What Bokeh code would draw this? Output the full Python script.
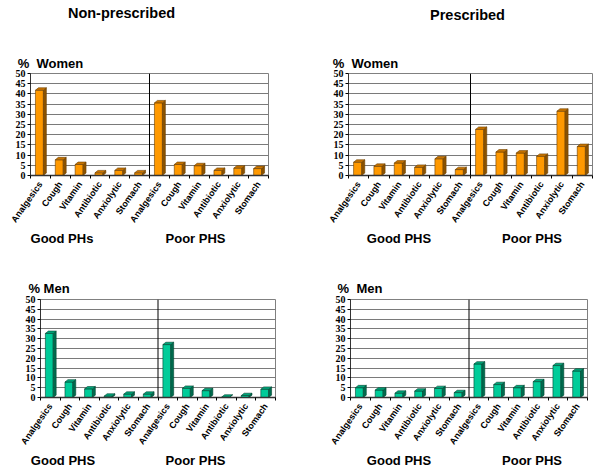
from bokeh.plotting import figure
from bokeh.models import Span, FixedTicker, Range1d, LinearAxis
from bokeh.layouts import column, row
from bokeh.embed import file_html
from bokeh.resources import INLINE

categories = ["Analgesics", "Cough", "Vitamin", "Antibiotic", "Anxiolytic", "Stomach"]
tick_labels = categories + categories
y_ticks = [0, 5, 10, 15, 20, 25, 30, 35, 40, 45, 50]

women_nonpres_good = [41.8, 7.7, 5.4, 1.3, 2.5, 1.3]
women_nonpres_poor = [35.6, 5.4, 4.8, 2.5, 3.6, 3.4]
women_pres_good = [6.5, 4.5, 6.1, 4.0, 8.2, 2.9]
women_pres_poor = [22.6, 11.5, 11.0, 9.4, 31.5, 14.2]
men_nonpres_good = [32.7, 7.9, 4.4, 0.7, 1.7, 1.7]
men_nonpres_poor = [27.0, 4.7, 3.5, 0.2, 1.0, 4.2]
men_pres_good = [5.0, 3.8, 2.2, 3.3, 4.6, 2.5]
men_pres_poor = [17.1, 6.6, 5.0, 8.1, 16.3, 13.5]

ORANGE = ("#FF9900", "#C87400", "#8A5200", "#6B3F00")
GREEN = ("#00CC99", "#00A57A", "#006B4E", "#004733")

SANS = "Liberation Sans"
SERIF = "Liberation Serif"
NB = "\u00a0"


def text_axis(p, where, items, size, standoff):
    """Axis used only to carry free text labels (centered on tick positions)."""
    ticks = [round(t, 3) for t, _ in items]
    ax = LinearAxis(ticker=FixedTicker(ticks=ticks))
    ax.major_label_overrides = {t: s for t, (_, s) in zip(ticks, items)}
    ax.axis_line_color = None
    ax.major_tick_line_color = None
    ax.minor_tick_line_color = None
    ax.major_tick_out = 0
    ax.major_tick_in = 0
    ax.minor_tick_out = 0
    ax.minor_tick_in = 0
    ax.major_label_standoff = standoff
    ax.major_label_text_font = SANS
    ax.major_label_text_font_style = "bold"
    ax.major_label_text_font_size = size
    ax.major_label_text_color = "black"
    p.add_layout(ax, where)


def make_panel(good, poor, colors, width, height, left, right, top, bottom,
               title, heading, group_names, group_px, title_px, heading_px,
               head_standoff, title_standoff, group_standoff):
    p = figure(width=width, height=height, output_backend="svg", toolbar_location=None,
               min_border_left=left, min_border_right=right,
               min_border_top=top, min_border_bottom=bottom,
               x_range=Range1d(-0.5, 11.5), y_range=Range1d(0, 50))
    p.background_fill_color = "white"
    p.border_fill_color = "white"
    p.outline_line_color = "#808080"
    p.outline_line_width = 1

    frame_w = width - left - right
    unit = frame_w / 12.0

    def to_data(px):
        # px measured from the frame's left edge
        return px / unit - 0.5

    vals = list(good) + list(poor)
    xs_pos = list(range(len(vals)))
    front, top_c, side, edge = colors
    dx, dy = 0.15, 1.2
    fl, fr = -0.25, 0.15
    p.quad(left=[x + fl for x in xs_pos], right=[x + fr for x in xs_pos],
           bottom=[0] * len(vals), top=vals, fill_color=front,
           line_color=edge, line_width=0.6)
    side_xs = [[x + fr, x + fr + dx, x + fr + dx, x + fr] for x in xs_pos]
    side_ys = [[0, dy, v + dy, v] for v in vals]
    p.patches(side_xs, side_ys, fill_color=side, line_color=edge, line_width=0.6)
    top_xs = [[x + fl, x + fr, x + fr + dx, x + fl + dx] for x in xs_pos]
    top_ys = [[v, v, v + dy, v + dy] for v in vals]
    p.patches(top_xs, top_ys, fill_color=top_c, line_color=edge, line_width=0.6)

    p.add_layout(Span(location=5.5, dimension="height", line_color="black", line_width=1))

    p.xgrid.visible = False
    p.ygrid.ticker = FixedTicker(ticks=y_ticks[1:])
    p.ygrid.grid_line_color = "#7a7a7a"
    p.ygrid.grid_line_width = 1

    xa = p.xaxis[0]
    xa.ticker = FixedTicker(ticks=xs_pos, minor_ticks=[x - 0.5 for x in range(len(vals) + 1)])
    xa.major_label_overrides = {i: t for i, t in enumerate(tick_labels)}
    xa.major_label_orientation = 0.96
    xa.major_tick_out = 0
    xa.major_tick_in = 0
    xa.minor_tick_out = 3
    xa.minor_tick_in = 0
    xa.major_label_standoff = 4
    xa.major_label_text_font = SANS
    xa.major_label_text_font_style = "bold"
    xa.major_label_text_font_size = "9px"
    xa.major_label_text_color = "black"
    xa.axis_line_color = "#333333"
    xa.axis_line_width = 1.5

    ya = p.yaxis[0]
    ya.ticker = FixedTicker(ticks=y_ticks)
    ya.major_tick_out = 3
    ya.major_tick_in = 0
    ya.minor_tick_out = 0
    ya.minor_tick_in = 0
    ya.major_label_standoff = 2
    ya.major_label_text_font = SERIF
    ya.major_label_text_font_style = "bold"
    ya.major_label_text_font_size = "10px"
    ya.major_label_text_color = "black"
    ya.axis_line_color = "#333333"

    # group names below the category labels
    text_axis(p, "below", [(to_data(group_px[0]), group_names[0]),
                           (to_data(group_px[1]), group_names[1])], "13px", group_standoff)
    # "% Women" / "% Men" heading just above the frame
    text_axis(p, "above", [(to_data(heading_px), heading)], "13px", head_standoff)
    if title is not None:
        text_axis(p, "above", [(to_data(title_px), title)], "14.5px", title_standoff)
    return p


# frame-relative pixel centres of the free texts
p1 = make_panel(women_nonpres_good, women_nonpres_poor, ORANGE, 300, 248, 30, 32, 73, 73,
                "Non-prescribed", "%" + NB + NB + "Women", ("Good PHs", "Poor PHS"),
                (31.5, 165), 91, 20, 3, 32, 0)
p2 = make_panel(women_pres_good, women_pres_poor, ORANGE, 300, 248, 48, 8, 73, 72,
                "Prescribed", "%" + NB + NB + "Women", ("Good PHS", "Poor PHS"),
                (50.5, 183.5), 119, 17, 3, 30, 0)
p3 = make_panel(men_nonpres_good, men_nonpres_poor, GREEN, 300, 228, 40, 25, 50, 79,
                None, "%" + NB + "Men", ("Good PHS", "Poor PHS"),
                (22.5, 155), 0, 8.5, 4, 0, 0)
p4 = make_panel(men_pres_good, men_pres_poor, GREEN, 300, 228, 50, 13, 51, 77,
                None, "%" + NB + NB + "Men", ("Good PHS", "Poor PHS"),
                (48.5, 181.5), 0, 9.5, 4, 0, 0)

layout = column(row(p1, p2, spacing=0), row(p3, p4, spacing=0), spacing=0)
open("out.html", "w").write(file_html(layout, INLINE))
